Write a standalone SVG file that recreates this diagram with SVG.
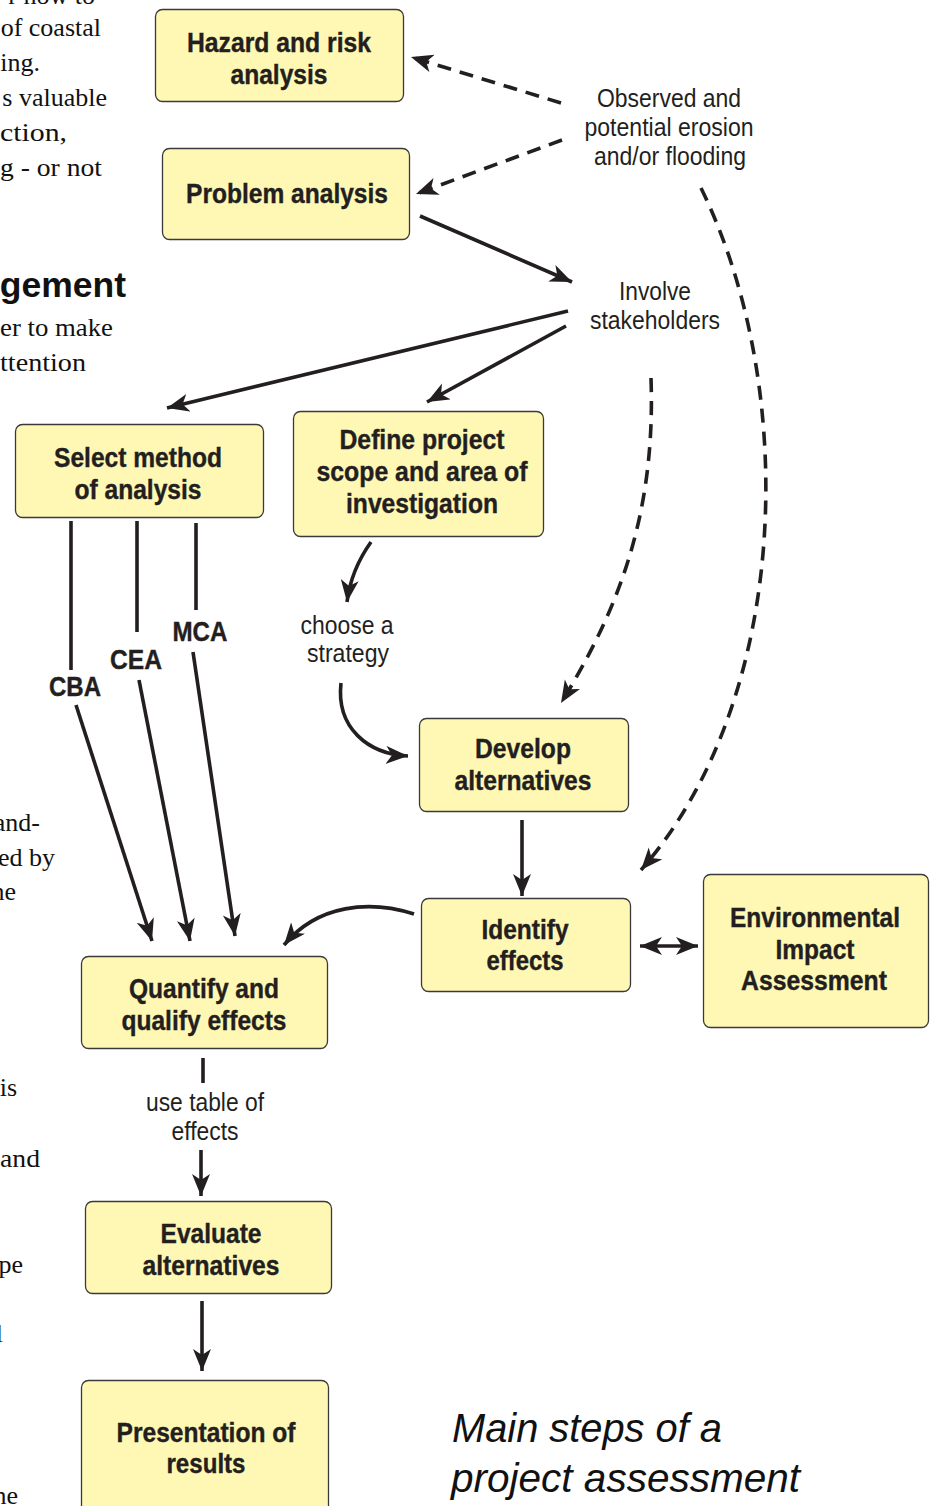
<svg xmlns="http://www.w3.org/2000/svg" width="935" height="1506" viewBox="0 0 935 1506">
<style>
.box{fill:#fff8b4;stroke:#3a3a3a;stroke-width:1.3}
.bt{font-family:"Liberation Sans Narrow","Liberation Sans",Arial,sans-serif;font-weight:bold;font-size:28px;fill:#231f20;text-anchor:middle;stroke:#231f20;stroke-width:0.4}
.lt{font-family:"Liberation Sans Narrow","Liberation Sans",Arial,sans-serif;font-size:25px;fill:#231f20;text-anchor:middle}
.pg{font-family:"Liberation Serif","Times New Roman",serif;font-size:26px;fill:#111;text-anchor:end}
.ps{font-family:"Liberation Serif","Times New Roman",serif;font-size:26px;fill:#111}
.ln{fill:none;stroke:#231f20;stroke-width:3.6}
.ds{fill:none;stroke:#231f20;stroke-width:3.6;stroke-dasharray:14 9}
.tt{font-family:"Liberation Sans",Arial,sans-serif;font-style:italic;font-size:40px;fill:#111}
</style>
<defs>
<marker id="ah" markerUnits="userSpaceOnUse" markerWidth="24" markerHeight="20" refX="22" refY="9" orient="auto">
<path d="M0,0 L22,9 L0,18 L6,9 z" fill="#231f20"/>
</marker>
<marker id="ahs" markerUnits="userSpaceOnUse" markerWidth="24" markerHeight="20" refX="22" refY="9" orient="auto-start-reverse">
<path d="M0,0 L22,9 L0,18 L6,9 z" fill="#231f20"/>
</marker>
</defs>
<rect width="935" height="1506" fill="#ffffff"/>

<g id="page-text">
<text class="pg" x="95" y="4">r how to</text>
<text class="pg" x="101" y="36">of coastal</text>
<text class="pg" x="40" y="71">ing.</text>
<text class="pg" x="107" y="106">s valuable</text>
<text class="ps" x="0" y="141" textLength="67" lengthAdjust="spacingAndGlyphs">ction,</text>
<text class="ps" x="0" y="176" textLength="102" lengthAdjust="spacingAndGlyphs">g - or not</text>
<text x="126" y="297" style="font-family:'Liberation Sans',Arial,sans-serif;font-weight:bold;font-size:35.5px;fill:#111;text-anchor:end">gement</text>
<text class="ps" x="0" y="336" textLength="113" lengthAdjust="spacingAndGlyphs">er to make</text>
<text class="ps" x="0" y="371" textLength="86" lengthAdjust="spacingAndGlyphs">ttention</text>
<text class="pg" x="40" y="831">and-</text>
<text class="pg" x="55" y="866">ed by</text>
<text class="pg" x="16" y="900">ne</text>
<text class="pg" x="17" y="1096">is</text>
<text class="ps" x="0" y="1167" textLength="40" lengthAdjust="spacingAndGlyphs">and</text>
<text class="pg" x="23" y="1273">pe</text>
<text class="pg" x="3" y="1342">l</text>
<text class="pg" x="18" y="1504">ne</text>
</g>

<g id="connectors">
<line class="ds" x1="561" y1="103" x2="411" y2="57" marker-end="url(#ah)"/>
<line class="ds" x1="562" y1="140" x2="416" y2="194" marker-end="url(#ah)"/>
<line class="ln" x1="420" y1="216" x2="572" y2="282" marker-end="url(#ah)"/>
<line class="ln" x1="568" y1="311" x2="167" y2="408" marker-end="url(#ah)"/>
<line class="ln" x1="566" y1="326" x2="427" y2="402" marker-end="url(#ah)"/>
<path class="ds" d="M651,378 C656,520 615,615 561,703" marker-end="url(#ah)"/>
<path class="ds" d="M701,188 C800,390 790,700 641,870" marker-end="url(#ah)"/>
<path class="ln" d="M371,542 Q351,570 347,602" marker-end="url(#ah)"/>
<path class="ln" d="M341,683 C336,728 368,754 408,756" marker-end="url(#ah)"/>
<line class="ln" x1="71" y1="521" x2="71" y2="670"/>
<line class="ln" x1="76" y1="705" x2="152" y2="941" marker-end="url(#ah)"/>
<line class="ln" x1="137" y1="521" x2="137" y2="632"/>
<line class="ln" x1="139" y1="680" x2="190" y2="941" marker-end="url(#ah)"/>
<line class="ln" x1="196" y1="523" x2="196" y2="610"/>
<line class="ln" x1="193" y1="652" x2="235" y2="936" marker-end="url(#ah)"/>
<line class="ln" x1="522" y1="820" x2="522" y2="896" marker-end="url(#ah)"/>
<path class="ln" d="M414,914 C370,900 318,904 284,945" marker-end="url(#ah)"/>
<line class="ln" x1="640" y1="946" x2="698" y2="946" marker-start="url(#ahs)" marker-end="url(#ah)"/>
<line class="ln" x1="203" y1="1058" x2="203" y2="1083"/>
<line class="ln" x1="201" y1="1150" x2="201" y2="1196" marker-end="url(#ah)"/>
<line class="ln" x1="202" y1="1301" x2="202" y2="1371" marker-end="url(#ah)"/>
</g>

<g id="hazard">
<rect class="box" x="155.5" y="9.5" width="248" height="92" rx="7"/>
<text class="bt" x="279" y="52" textLength="184" lengthAdjust="spacingAndGlyphs">Hazard and risk</text>
<text class="bt" x="279" y="84" textLength="97" lengthAdjust="spacingAndGlyphs">analysis</text>
</g>
<g id="problem">
<rect class="box" x="162.5" y="148.5" width="247" height="91" rx="7"/>
<text class="bt" x="287" y="203" textLength="202" lengthAdjust="spacingAndGlyphs">Problem analysis</text>
</g>
<g id="observed">
<text class="lt" x="669" y="107" textLength="144" lengthAdjust="spacingAndGlyphs">Observed and</text>
<text class="lt" x="669" y="136" textLength="169" lengthAdjust="spacingAndGlyphs">potential erosion</text>
<text class="lt" x="670" y="165" textLength="152" lengthAdjust="spacingAndGlyphs">and/or flooding</text>
</g>
<g id="stakeholders">
<text class="lt" x="655" y="300" textLength="72" lengthAdjust="spacingAndGlyphs">Involve</text>
<text class="lt" x="655" y="329" textLength="130" lengthAdjust="spacingAndGlyphs">stakeholders</text>
</g>
<g id="select">
<rect class="box" x="15.5" y="424.5" width="248" height="93" rx="7"/>
<text class="bt" x="138" y="467" textLength="168" lengthAdjust="spacingAndGlyphs">Select method</text>
<text class="bt" x="138" y="499" textLength="127" lengthAdjust="spacingAndGlyphs">of analysis</text>
</g>
<g id="define">
<rect class="box" x="293.5" y="411.5" width="250" height="125" rx="7"/>
<text class="bt" x="422" y="449" textLength="165" lengthAdjust="spacingAndGlyphs">Define project</text>
<text class="bt" x="422" y="481" textLength="211" lengthAdjust="spacingAndGlyphs">scope and area of</text>
<text class="bt" x="422" y="513" textLength="152" lengthAdjust="spacingAndGlyphs">investigation</text>
</g>
<g id="strategy">
<text class="lt" x="347" y="634" textLength="93" lengthAdjust="spacingAndGlyphs">choose a</text>
<text class="lt" x="348" y="662" textLength="82" lengthAdjust="spacingAndGlyphs">strategy</text>
</g>
<g id="labels-methods">
<text class="bt" x="200" y="641" textLength="55" lengthAdjust="spacingAndGlyphs">MCA</text>
<text class="bt" x="136" y="669" textLength="52" lengthAdjust="spacingAndGlyphs">CEA</text>
<text class="bt" x="75" y="696" textLength="52" lengthAdjust="spacingAndGlyphs">CBA</text>
</g>
<g id="develop">
<rect class="box" x="419.5" y="718.5" width="209" height="93" rx="7"/>
<text class="bt" x="523" y="758" textLength="96" lengthAdjust="spacingAndGlyphs">Develop</text>
<text class="bt" x="523" y="790" textLength="137" lengthAdjust="spacingAndGlyphs">alternatives</text>
</g>
<g id="identify">
<rect class="box" x="421.5" y="898.5" width="209" height="93" rx="7"/>
<text class="bt" x="525" y="939" textLength="87" lengthAdjust="spacingAndGlyphs">Identify</text>
<text class="bt" x="525" y="970" textLength="77" lengthAdjust="spacingAndGlyphs">effects</text>
</g>
<g id="eia">
<rect class="box" x="703.5" y="874.5" width="225" height="153" rx="7"/>
<text class="bt" x="815" y="927" textLength="170" lengthAdjust="spacingAndGlyphs">Environmental</text>
<text class="bt" x="815" y="959" textLength="79" lengthAdjust="spacingAndGlyphs">Impact</text>
<text class="bt" x="814" y="990" textLength="146" lengthAdjust="spacingAndGlyphs">Assessment</text>
</g>
<g id="quantify">
<rect class="box" x="81.5" y="956.5" width="246" height="92" rx="7"/>
<text class="bt" x="204" y="998" textLength="150" lengthAdjust="spacingAndGlyphs">Quantify and</text>
<text class="bt" x="204" y="1030" textLength="165" lengthAdjust="spacingAndGlyphs">qualify effects</text>
</g>
<g id="table">
<text class="lt" x="205" y="1111" textLength="118" lengthAdjust="spacingAndGlyphs">use table of</text>
<text class="lt" x="205" y="1140" textLength="67" lengthAdjust="spacingAndGlyphs">effects</text>
</g>
<g id="evaluate">
<rect class="box" x="85.5" y="1201.5" width="246" height="92" rx="7"/>
<text class="bt" x="211" y="1243" textLength="101" lengthAdjust="spacingAndGlyphs">Evaluate</text>
<text class="bt" x="211" y="1275" textLength="137" lengthAdjust="spacingAndGlyphs">alternatives</text>
</g>
<g id="presentation">
<rect class="box" x="81.5" y="1380.5" width="247" height="140" rx="7"/>
<text class="bt" x="206" y="1442" textLength="179" lengthAdjust="spacingAndGlyphs">Presentation of</text>
<text class="bt" x="206" y="1473" textLength="79" lengthAdjust="spacingAndGlyphs">results</text>
</g>
<g id="title">
<text class="tt" x="452" y="1442" textLength="270" lengthAdjust="spacingAndGlyphs">Main steps of a</text>
<text class="tt" x="451" y="1492" textLength="349" lengthAdjust="spacingAndGlyphs">project assessment</text>
</g>
</svg>
